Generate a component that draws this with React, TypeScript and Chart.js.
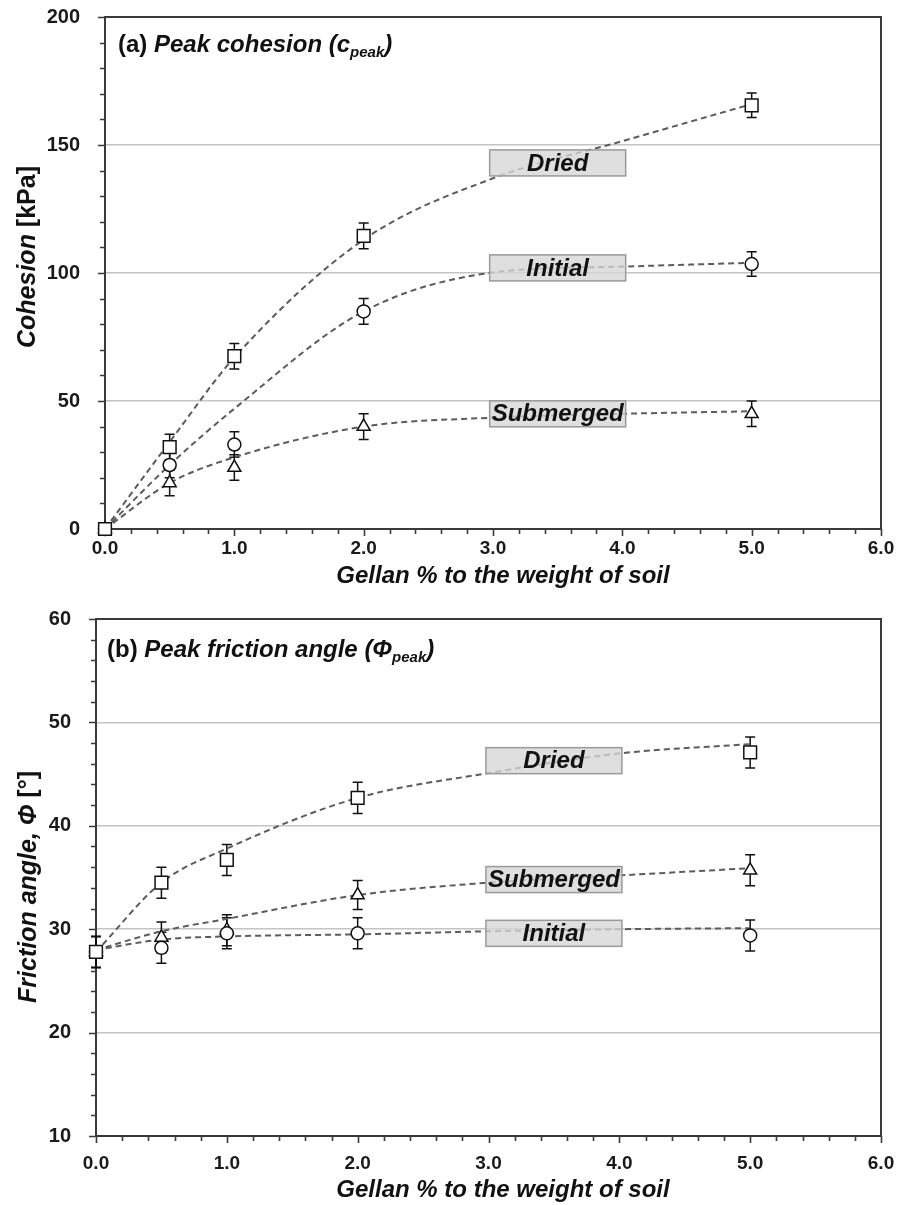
import React, { useEffect, useRef } from "react";
import { Chart, registerables } from "chart.js";
Chart.register(...registerables);

const FONT = '"Liberation Sans", Arial, Helvetica, sans-serif';

// ---------- data ----------
const gellanPct = [0, 0.5, 1.0, 2.0, 5.0];
const trendPct = [0, 0.5, 1.0, 2.0, 3.0, 4.0, 5.0];
const xTickValues = [0, 1, 2, 3, 4, 5, 6];

// (a) peak cohesion [kPa]
const cohesionDried = [0, 32, 67.5, 114.5, 165.5];
const cohesionInitial = [0, 25, 33, 85, 103.5];
const cohesionSubmerged = [0, 18, 24, 40, 45];
const cohesionErrDried = [0, 5, 5, 5, 4.8];
const cohesionErrInitial = [0, 5, 5, 5, 4.8];
const cohesionErrSubmerged = [0, 5, 5, 5, 5];
const cohesionTrendDried = [0, 34, 67, 113, 137, 151.5, 166];
const cohesionTrendInitial = [0, 25, 47, 85, 100.2, 102.5, 104];
const cohesionTrendSubmerged = [0, 18, 28, 40, 43.5, 45, 46];
const cohesionLabels = ["Dried", "Initial", "Submerged"];
const cohesionLabelY = [143, 102, 45];
const cohesionTicks = [0, 50, 100, 150, 200];

// (b) peak friction angle [deg]
const frictionDried = [27.8, 34.5, 36.7, 42.7, 47.1];
const frictionInitial = [27.8, 28.2, 29.6, 29.6, 29.4];
const frictionSubmerged = [27.8, 29.2, 29.9, 33.3, 35.7];
const frictionErrDried = [1.5, 1.5, 1.5, 1.5, 1.5];
const frictionErrInitial = [1.5, 1.5, 1.5, 1.5, 1.5];
const frictionErrSubmerged = [1.5, 1.5, 1.5, 1.4, 1.5];
const frictionTrendDried = [27.8, 34.5, 37.8, 42.7, 45.1, 47.0, 47.9];
const frictionTrendInitial = [28, 29.0, 29.3, 29.5, 29.8, 30.0, 30.1];
const frictionTrendSubmerged = [28, 29.8, 31.0, 33.3, 34.5, 35.2, 35.9];
const frictionLabels = ["Dried", "Submerged", "Initial"];
const frictionLabelY = [46.3, 34.8, 29.6];
const frictionTicks = [10, 20, 30, 40, 50, 60];

const LABEL_X = 3.5;

// ---------- helpers ----------
type Seg = { text: string; font: string; dy?: number };

function segWidth(ctx: CanvasRenderingContext2D, segs: Seg[]) {
  let t = 0;
  for (const s of segs) {
    ctx.font = s.font;
    t += ctx.measureText(s.text).width;
  }
  return t;
}

function drawSegs(ctx: CanvasRenderingContext2D, segs: Seg[], x: number, y: number, center: boolean) {
  const total = segWidth(ctx, segs);
  let cx = center ? x - total / 2 : x;
  ctx.textAlign = "left";
  ctx.textBaseline = "alphabetic";
  for (const s of segs) {
    ctx.font = s.font;
    ctx.fillText(s.text, cx, y + (s.dy || 0));
    cx += ctx.measureText(s.text).width;
  }
}

const BI = (px: number) => `italic bold ${px}px ${FONT}`;
const B = (px: number) => `bold ${px}px ${FONT}`;

interface PanelCfg {
  yMinor: number;
  yMajor: number;
  labels: string[];
  labelY: number[];
  title: Seg[];
  titleX: number;
  titleY: number;
  yTitle: Seg[];
  yTitleX: number;
  yTitleCenter: number;
  xTitle: string;
  xTitleCenter: number;
  xTitleY: number;
}

function makeDecor(cfg: PanelCfg) {
  return {
    id: "decor",
    beforeDatasetsDraw(chart: any) {
      const ctx: CanvasRenderingContext2D = chart.ctx;
      const a = chart.chartArea;
      const xs = chart.scales.x;
      const ys = chart.scales.y;
      ctx.save();
      // ticks
      ctx.strokeStyle = "#3a3a3a";
      ctx.lineWidth = 1.6;
      ctx.beginPath();
      for (let i = 0; i <= Math.round((xs.max - xs.min) / 0.2); i++) {
        const v = xs.min + i * 0.2;
        const major = Math.abs(v - Math.round(v)) < 1e-6;
        const px = Math.round(xs.getPixelForValue(v)) + 0.5;
        ctx.moveTo(px, a.bottom);
        ctx.lineTo(px, a.bottom + (major ? 7 : 5));
      }
      const nY = Math.round((ys.max - ys.min) / cfg.yMinor);
      for (let i = 0; i <= nY; i++) {
        const v = ys.min + i * cfg.yMinor;
        const major = Math.abs(v / cfg.yMajor - Math.round(v / cfg.yMajor)) < 1e-6;
        const py = Math.round(ys.getPixelForValue(v)) + 0.5;
        ctx.moveTo(a.left, py);
        ctx.lineTo(a.left - (major ? 7 : 5), py);
      }
      ctx.stroke();
      // frame
      ctx.lineWidth = 2;
      ctx.strokeStyle = "#3a3a3a";
      ctx.strokeRect(a.left, a.top, a.right - a.left, a.bottom - a.top);
      // error bars
      ctx.strokeStyle = "#111";
      ctx.lineWidth = 1.5;
      chart.data.datasets.forEach((ds: any, i: number) => {
        if (!ds.errorBars) return;
        const meta = chart.getDatasetMeta(i);
        meta.data.forEach((el: any, j: number) => {
          const err = ds.errorBars[j];
          if (!err) return;
          const val = ds.data[j].y;
          const y1 = ys.getPixelForValue(val + err);
          const y2 = ys.getPixelForValue(val - err);
          const x = el.x;
          ctx.beginPath();
          ctx.moveTo(x, y1);
          ctx.lineTo(x, y2);
          ctx.moveTo(x - 5, y1);
          ctx.lineTo(x + 5, y1);
          ctx.moveTo(x - 5, y2);
          ctx.lineTo(x + 5, y2);
          ctx.stroke();
        });
      });
      ctx.restore();
    },
    afterDatasetsDraw(chart: any) {
      const ctx: CanvasRenderingContext2D = chart.ctx;
      const xs = chart.scales.x;
      const ys = chart.scales.y;
      ctx.save();
      cfg.labels.forEach((lab, i) => {
        const cx = xs.getPixelForValue(LABEL_X);
        const cy = ys.getPixelForValue(cfg.labelY[i]);
        const w = 136;
        const h = 26;
        ctx.fillStyle = "rgba(214,214,214,0.78)";
        ctx.fillRect(cx - w / 2, cy - h / 2, w, h);
        ctx.strokeStyle = "#9a9a9a";
        ctx.lineWidth = 1.5;
        ctx.strokeRect(cx - w / 2, cy - h / 2, w, h);
        ctx.fillStyle = "#111";
        ctx.font = BI(24);
        ctx.textAlign = "center";
        ctx.textBaseline = "middle";
        ctx.fillText(lab, cx, cy + 1);
      });
      ctx.restore();
    },
    afterDraw(chart: any) {
      const ctx: CanvasRenderingContext2D = chart.ctx;
      ctx.save();
      ctx.fillStyle = "#111";
      drawSegs(ctx, cfg.title, cfg.titleX, cfg.titleY, false);
      // x title
      ctx.font = BI(24);
      ctx.textAlign = "center";
      ctx.textBaseline = "alphabetic";
      ctx.fillText(cfg.xTitle, cfg.xTitleCenter, cfg.xTitleY);
      // y title
      ctx.translate(cfg.yTitleX, cfg.yTitleCenter);
      ctx.rotate(-Math.PI / 2);
      drawSegs(ctx, cfg.yTitle, 0, 0, true);
      ctx.restore();
    },
  };
}

function pts(xs: number[], ys: number[]) {
  return xs.map((x, i) => ({ x, y: ys[i] }));
}

function trendDs(values: number[]) {
  return {
    data: pts(trendPct, values),
    showLine: true,
    pointRadius: 0,
    borderColor: "#5c5c5c",
    borderWidth: 2,
    borderDash: [6, 4],
    cubicInterpolationMode: "monotone",
    fill: false,
    order: 2,
  };
}

function markerDs(values: number[], errs: number[], style: string, radius: number) {
  return {
    data: pts(gellanPct, values),
    errorBars: errs,
    showLine: false,
    pointStyle: style,
    pointRadius: radius,
    pointBorderColor: "#111",
    pointBackgroundColor: "#fff",
    pointBorderWidth: 1.5,
    clip: false,
    order: 1,
  };
}

function buildConfig(opts: {
  trends: number[][];
  markers: { v: number[]; e: number[]; s: string; r: number }[];
  yMin: number;
  yMax: number;
  yTicks: number[];
  padTop: number;
  yWidth: number;
  xHeight: number;
  xPad: number;
  decor: any;
}) {
  return {
    type: "scatter",
    data: {
      datasets: [
        ...opts.trends.map((t) => trendDs(t)),
        ...opts.markers.map((m) => markerDs(m.v, m.e, m.s, m.r)),
      ],
    },
    options: {
      responsive: false,
      animation: false,
      devicePixelRatio: 1,
      layout: { autoPadding: false, padding: { top: opts.padTop, right: 16, left: 0, bottom: 0 } },
      plugins: { legend: { display: false }, tooltip: { enabled: false } },
      scales: {
        x: {
          type: "linear",
          min: 0,
          max: 6,
          afterFit: (s: any) => {
            s.height = opts.xHeight;
            s.paddingLeft = 0;
            s.paddingRight = 0;
            s.paddingTop = 0;
            s.paddingBottom = 0;
          },
          afterBuildTicks: (s: any) => {
            s.ticks = xTickValues.map((v) => ({ value: v }));
          },
          grid: { display: false },
          border: { display: false },
          ticks: {
            autoSkip: false,
            maxRotation: 0,
            padding: opts.xPad,
            color: "#1a1a1a",
            font: { family: FONT, size: 19, weight: "bold" },
            callback: (v: number) => Number(v).toFixed(1),
          },
        },
        y: {
          type: "linear",
          min: opts.yMin,
          max: opts.yMax,
          afterFit: (s: any) => {
            s.width = opts.yWidth;
            s.paddingLeft = 0;
            s.paddingRight = 0;
            s.paddingTop = 0;
            s.paddingBottom = 0;
          },
          afterBuildTicks: (s: any) => {
            s.ticks = opts.yTicks.map((v) => ({ value: v }));
          },
          grid: { color: "#c4c4c4", lineWidth: 1.5, drawTicks: false },
          border: { display: false },
          ticks: {
            padding: 25,
            color: "#1a1a1a",
            font: { family: FONT, size: 20, weight: "bold" },
            callback: (v: number) => String(v),
          },
        },
      },
    },
    plugins: [opts.decor],
  };
}

export default function App() {
  const topRef = useRef<HTMLCanvasElement | null>(null);
  const botRef = useRef<HTMLCanvasElement | null>(null);

  useEffect(() => {
    const decorA = makeDecor({
      yMinor: 10,
      yMajor: 50,
      labels: cohesionLabels,
      labelY: cohesionLabelY,
      title: [
        { text: "(a) ", font: B(24) },
        { text: "Peak cohesion (", font: BI(24) },
        { text: "c", font: BI(24) },
        { text: "peak", font: BI(15), dy: 5 },
        { text: ")", font: BI(24) },
      ],
      titleX: 118,
      titleY: 52,
      yTitle: [
        { text: "Cohesion ", font: BI(25) },
        { text: "[kPa]", font: B(25) },
      ],
      yTitleX: 35,
      yTitleCenter: 257,
      xTitle: "Gellan % to the weight of soil",
      xTitleCenter: 503,
      xTitleY: 583,
    });
    const decorB = makeDecor({
      yMinor: 2,
      yMajor: 10,
      labels: frictionLabels,
      labelY: frictionLabelY,
      title: [
        { text: "(b) ", font: B(24) },
        { text: "Peak friction angle (", font: BI(24) },
        { text: "\u03A6", font: BI(24) },
        { text: "peak", font: BI(15), dy: 5 },
        { text: ")", font: BI(24) },
      ],
      titleX: 107,
      titleY: 67,
      yTitle: [
        { text: "Friction angle, \u03A6 ", font: BI(25) },
        { text: "[\u00B0]", font: B(25) },
      ],
      yTitleX: 36,
      yTitleCenter: 297,
      xTitle: "Gellan % to the weight of soil",
      xTitleCenter: 503,
      xTitleY: 607,
    });

    const cfgA: any = buildConfig({
      trends: [cohesionTrendDried, cohesionTrendInitial, cohesionTrendSubmerged],
      markers: [
        { v: cohesionDried, e: cohesionErrDried, s: "rect", r: 9 },
        { v: cohesionInitial, e: cohesionErrInitial, s: "circle", r: 6.5 },
        { v: cohesionSubmerged, e: cohesionErrSubmerged, s: "triangle", r: 7.5 },
      ],
      yMin: 0,
      yMax: 200,
      yTicks: cohesionTicks,
      padTop: 17,
      yWidth: 105,
      xHeight: 61,
      xPad: 0,
      decor: decorA,
    });
    const cfgB: any = buildConfig({
      trends: [frictionTrendDried, frictionTrendInitial, frictionTrendSubmerged],
      markers: [
        { v: frictionDried, e: frictionErrDried, s: "rect", r: 9 },
        { v: frictionInitial, e: frictionErrInitial, s: "circle", r: 6.5 },
        { v: frictionSubmerged, e: frictionErrSubmerged, s: "triangle", r: 7.5 },
      ],
      yMin: 10,
      yMax: 60,
      yTicks: frictionTicks,
      padTop: 29,
      yWidth: 96,
      xHeight: 69,
      xPad: 8,
      decor: decorB,
    });

    const a = new Chart(topRef.current as HTMLCanvasElement, cfgA);
    const b = new Chart(botRef.current as HTMLCanvasElement, cfgB);
    return () => {
      a.destroy();
      b.destroy();
    };
  }, []);

  return (
    <div style={{ position: "absolute", left: 0, top: 0, width: 897, height: 1205, background: "#fff" }}>
      <canvas ref={topRef} width={897} height={590} style={{ position: "absolute", left: 0, top: 0, width: 897, height: 590 }} />
      <canvas ref={botRef} width={897} height={615} style={{ position: "absolute", left: 0, top: 590, width: 897, height: 615 }} />
    </div>
  );
}
